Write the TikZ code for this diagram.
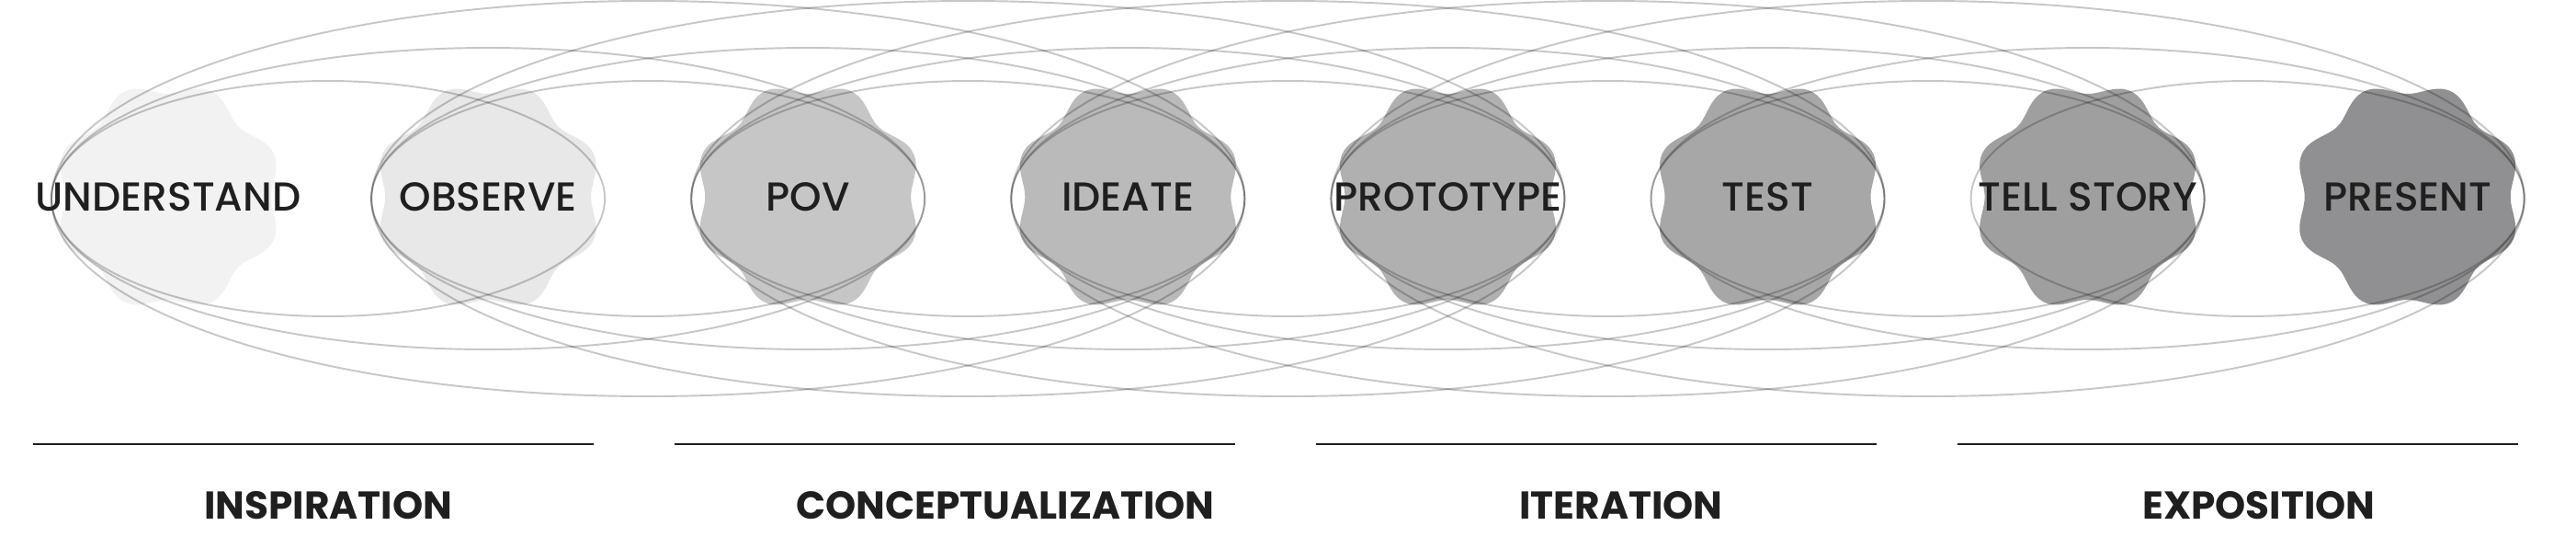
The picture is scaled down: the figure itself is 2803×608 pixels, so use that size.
\documentclass[tikz,border=0pt]{standalone}
\usepackage{fontspec}
\setmainfont{Poppins}
\newfontfamily\stepfont{Poppins}[UprightFont={* Medium}]
\usetikzlibrary{calc,positioning}
\tikzset{
    loop line/.style={draw=black, draw opacity=0.22, line width=0.55pt}, % thin grey loops between steps
    step label/.style={font=\stepfont\fontsize{12.5}{13}\selectfont, text=black!88},
    phase label/.style={font=\fontsize{12}{13}\selectfont\bfseries, text=black!88},
    phase rule/.style={line width=0.72pt, draw=black!88},
}
\begin{document}
\begin{tikzpicture}[x=0.01cm, y=0.01cm]
\useasboundingbox (0,0) rectangle (2803,608);
% centres of the steps
\foreach \i in {0,...,7}
    \coordinate (p\i) at (183+348.1*\i, 394);
% wavy blobs, lighter to darker
\foreach \c [count=\i from 0] in {F2F2F2,E8E8E8,C6C6C6,BABABA,B0B0B0,A7A7A7,9F9F9F,909092} {
    \definecolor{blobfill}{HTML}{\c}
    \fill[blobfill, shift={(p\i)}] plot[domain=0:358, samples=180, smooth cycle]
        (\x:{117-7*cos(8*\x)+2*cos(4*\x)});
}
% loops joining each step to the next three
\foreach \i in {0,...,6}
    \foreach \k/\b in {1/128, 2/164, 3/215} {
        \pgfmathtruncatemacro\j{\i+\k}
        \ifnum\j<8
            \draw[loop line] ($(p\i)!0.5!(p\j)+(0,-2)$) ellipse [x radius={174.05*\k+127}, y radius=\b];
        \fi
    }
% step names
\node[step label] (understand) at (p0) {UNDERSTAND};
\node[step label] (observe) at (p1) {OBSERVE};
\node[step label] (pov) at (p2) {POV};
\node[step label] (ideate) at (p3) {IDEATE};
\node[step label] (prototype) at (p4) {PROTOTYPE};
\node[step label] (test) at (p5) {TEST};
\node[step label] (tellstory) at (p6) {TELL STORY};
\node[step label] (present) at (p7) {PRESENT};
% phases
\foreach \x in {0,...,3}
    \draw[phase rule] (36+698*\x,125) -- (646+698*\x,125);
\node[phase label] (inspiration) at (357,58) {INSPIRATION};
\node[phase label] (conceptualization) at (1094,58) {CONCEPTUALIZATION};
\node[phase label] (iteration) at (1764,58) {ITERATION};
\node[phase label] (exposition) at (2458,58) {EXPOSITION};
\end{tikzpicture}
\end{document}
